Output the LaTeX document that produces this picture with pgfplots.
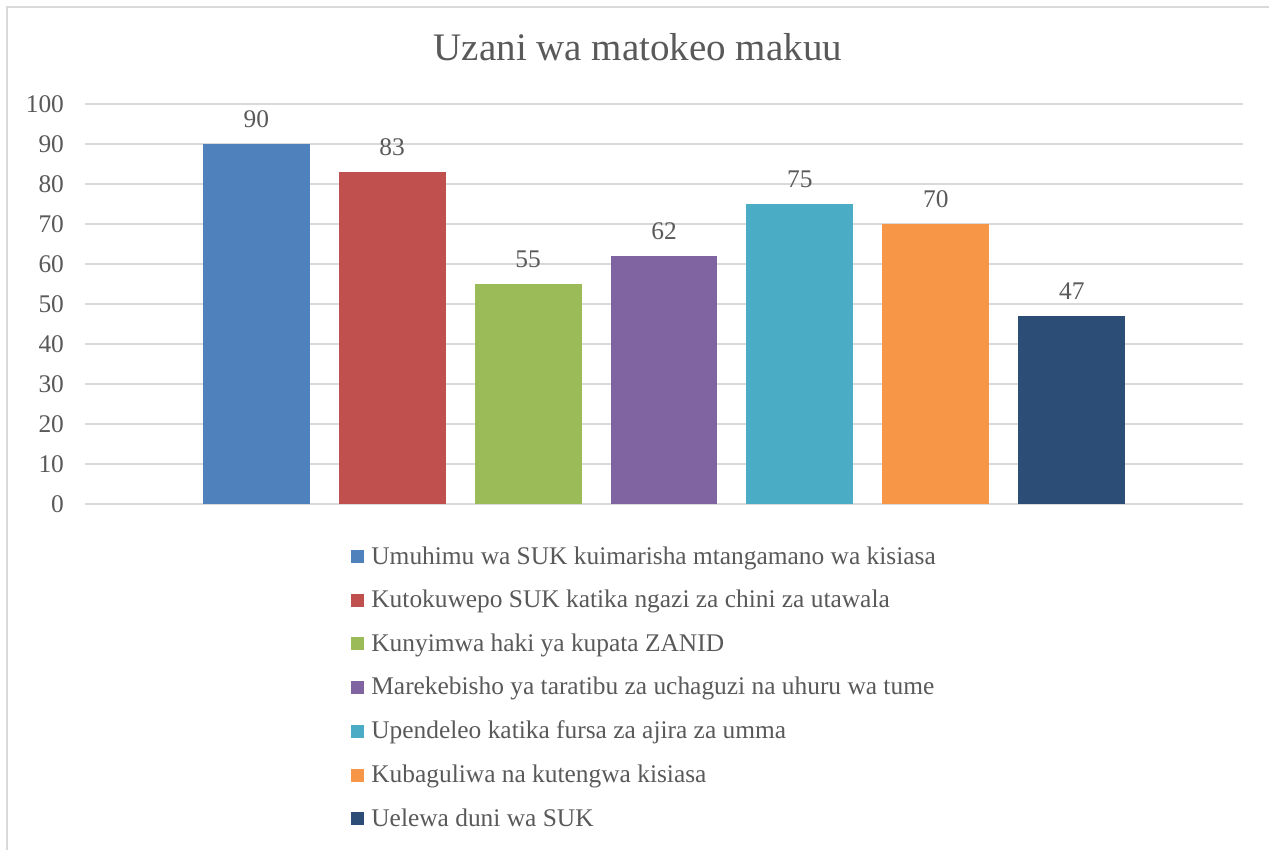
\documentclass[border=0pt]{standalone}
\usepackage{pgfplots}
\pgfplotsset{compat=1.18}
\usepackage{fontspec}
\setmainfont{Liberation Serif}
\definecolor{txt}{HTML}{595959}
\definecolor{gridc}{HTML}{D9D9D9}
\definecolor{c1}{HTML}{4F81BD}
\definecolor{c2}{HTML}{C0504D}
\definecolor{c3}{HTML}{9BBB59}
\definecolor{c4}{HTML}{8064A2}
\definecolor{c5}{HTML}{4BACC6}
\definecolor{c6}{HTML}{F79646}
\definecolor{c7}{HTML}{2C4D75}
\pgfplotsset{
  mybar/.style={fill=#1, draw=none, bar shift=0pt,
    legend image code/.code={\fill[fill=#1] (0pt,-3.25pt) rectangle (6.5pt,3.25pt); \path (9pt,0pt);}},
}
\begin{document}
\begin{tikzpicture}
\path[use as bounding box] (0,0) rectangle (634.5pt,425pt);
\draw[gridc, line width=1pt] (3.5pt,-2pt) -- (3.5pt,421.5pt) -- (640pt,421.5pt);
\begin{axis}[
  at={(42.5pt,173pt)}, anchor=south west,
  scale only axis, width=579pt, height=200pt,
  ybar, bar width=0.787,
  xmin=-1.26, xmax=7.26,
  ymin=0, ymax=100,
  ytick={0,10,...,100},
  xtick=\empty,
  axis line style={draw=none},
  major tick length=0pt,
  ymajorgrids, grid style={gridc, line width=0.9pt},
  ticklabel style={font=\fontsize{12.7}{15}\selectfont, text=txt},
  yticklabel style={xshift=-7pt},
  /pgf/number format/assume math mode=true,
  nodes near coords,
  nodes near coords style={font=\fontsize{12.7}{15}\selectfont, text=txt, anchor=base, yshift=8pt},
  title={Uzani wa matokeo makuu},
  title style={at={(0.4775,1.1125)}, anchor=center, font=\fontsize{19.5}{22}\selectfont, text=txt},
  legend style={at={(0.2297,-0.1)}, anchor=north west, draw=none, fill=none,
    font=\fontsize{12.7}{15}\selectfont, text=txt, row sep=9.5pt, inner sep=0pt,
    nodes={inner sep=1pt, anchor=west}},
  legend cell align=left,
]
\addplot[mybar=c1] coordinates {(0,90)};
\addlegendentry{Umuhimu wa SUK kuimarisha mtangamano wa kisiasa}
\addplot[mybar=c2] coordinates {(1,83)};
\addlegendentry{Kutokuwepo SUK katika ngazi za chini za utawala}
\addplot[mybar=c3] coordinates {(2,55)};
\addlegendentry{Kunyimwa haki ya kupata ZANID}
\addplot[mybar=c4] coordinates {(3,62)};
\addlegendentry{Marekebisho ya taratibu za uchaguzi na uhuru wa tume}
\addplot[mybar=c5] coordinates {(4,75)};
\addlegendentry{Upendeleo katika fursa za ajira za umma}
\addplot[mybar=c6] coordinates {(5,70)};
\addlegendentry{Kubaguliwa na kutengwa kisiasa}
\addplot[mybar=c7] coordinates {(6,47)};
\addlegendentry{Uelewa duni wa SUK}
\end{axis}
\end{tikzpicture}
\end{document}
